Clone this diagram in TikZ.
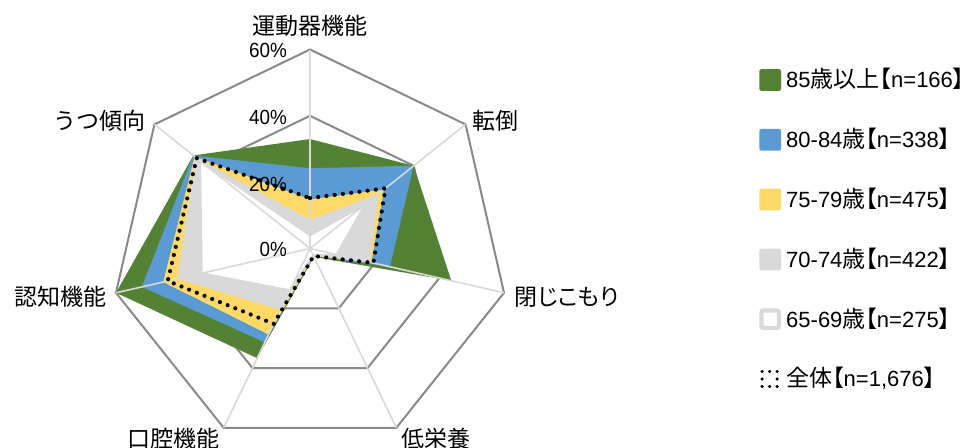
\documentclass[tikz,border=0pt]{standalone}
\usepackage{fontspec}
\setmainfont{Noto Sans CJK JP}
\newfontfamily\cjkp[RawFeature=+palt]{Noto Sans CJK JP}
\newfontfamily\lat[FakeStretch=0.92]{Liberation Sans}
\newfontfamily\latw{Liberation Sans}
\usetikzlibrary{calc}
\definecolor{cgreen}{HTML}{548235}
\definecolor{cblue}{HTML}{5B9BD5}
\definecolor{cyellow}{HTML}{FFD966}
\definecolor{cgray}{HTML}{D9D9D9}
\definecolor{cring}{HTML}{898989}
\newcommand\latn[1]{{\latw\fontsize{22}{26}\selectfont #1}}
\newcommand\lbr{{\cjkp 【}}
\newcommand\rbr{{\cjkp 】}}
\newcommand\mkseries[2]{%
  \foreach \v [count=\k from 0] in {#2}{%
    \coordinate (#1\k) at ({310+cos(-90+\k*360/7)*\v*199/60},{248.5+sin(-90+\k*360/7)*\v*199/60});}}
\begin{document}
\begin{tikzpicture}[x=1pt,y=-1pt,
  ring/.style={draw=cring,line width=2pt,line join=miter},
  spoke/.style={draw=cgray,line width=1.6pt},
  dotline/.style={draw=black,line width=4.2pt,dash pattern=on 0pt off 8.3pt,line cap=round},
  axl/.style={inner sep=0pt,font=\fontsize{23}{27}\selectfont},
  tick/.style={inner sep=0pt,anchor=east,font=\lat\fontsize{20.5}{24}\selectfont},
  ltxt/.style={inner sep=0pt,anchor=west,font=\fontsize{23}{27}\selectfont},
  lsq/.style={inner sep=0pt,minimum size=21.7pt,rounded corners=2pt}]
\useasboundingbox (0,0) rectangle (973,447);
\fill[white] (0,0) rectangle (973,447);
\coordinate (C) at (310,248.5);
\mkseries{aa}{20,20,20,20,20,20,20}
\mkseries{bb}{40,40,40,40,40,40,40}
\mkseries{cc}{60,60,60,60,60,60,60}
% rings
\draw[ring] (aa0) \foreach \k in {1,...,6}{-- (aa\k)} -- cycle;
\draw[ring] (bb0) \foreach \k in {1,...,6}{-- (bb\k)} -- cycle;
\draw[ring] (cc0) \foreach \k in {1,...,6}{-- (cc\k)} -- cycle;
% series
\mkseries{g}{33,40,43.7,2.8,36.7,60,45}
\mkseries{b}{24.2,40,24.7,2.6,31.4,52,45}
\mkseries{y}{14.8,28.5,19,2.5,28.8,45.4,44.5}
\mkseries{s}{8.6,26.3,18.5,2.3,20.5,41,44.3}
\mkseries{w}{4,21.2,8.2,2.2,14,33.5,42.4}
\mkseries{t}{15.2,29.1,19.6,2.5,25.2,44,43.7}
\fill[cgreen] (g0) \foreach \k in {1,...,6}{-- (g\k)} -- cycle;
\fill[cblue] (b0) \foreach \k in {1,...,6}{-- (b\k)} -- cycle;
\fill[cyellow] (y0) \foreach \k in {1,...,6}{-- (y\k)} -- cycle;
\fill[cgray] (s0) \foreach \k in {1,...,6}{-- (s\k)} -- cycle;
\filldraw[fill=white,draw=cgray,line width=2pt,line join=round] (w0) \foreach \k in {1,...,6}{-- (w\k)} -- cycle;
% spokes
\foreach \k in {0,...,6}{\draw[spoke] (C) -- (cc\k);}
% overall
\draw[dotline] (t0) \foreach \k in {1,...,6}{-- (t\k)} -- cycle;
% tick labels
\node[tick] (p60) at (287,50) {60\%};
\node[tick] (p40) at (287,117) {40\%};
\node[tick] (p20) at (287,184) {20\%};
\node[tick] (p0) at (287,249.5) {0\%};
% axis labels
\node[axl,anchor=center] (L0) at (310,26.3) {運動器機能};
\node[axl,anchor=west] (L1) at (472.5,121) {転倒};
\node[axl,anchor=west] (L2) at (514.5,297) {\cjkp 閉じこもり};
\node[axl,anchor=west] (L3) at (401,438.5) {低栄養};
\node[axl,anchor=east] (L4) at (219.5,438.5) {口腔機能};
\node[axl,anchor=east] (L5) at (106.5,296.7) {認知機能};
\node[axl,anchor=east] (L6) at (145.5,121) {うつ傾向};
% legend
\node[lsq,fill=cgreen] (k1) at (770.2,80) {};
\node[lsq,fill=cblue] (k2) at (770.2,139.8) {};
\node[lsq,fill=cyellow] (k3) at (770.2,199.5) {};
\node[lsq,fill=cgray] (k4) at (770.2,259.5) {};
\node[lsq,fill=white,draw=cgray,line width=4.3pt,minimum size=17.4pt] (k5) at (770.2,319.2) {};
\node[inner sep=0pt,minimum size=15pt,dotline,line width=3.5pt,dash pattern=on 0pt off 7.5pt] (k6) at (769.5,379) {};
\node[ltxt] (x1) at (786,79) {\latn{85}歳以上\lbr\latn{n=166}\rbr};
\node[ltxt] (x2) at (786,139) {\latn{80-84}歳\lbr\latn{n=338}\rbr};
\node[ltxt] (x3) at (786,198.7) {\latn{75-79}歳\lbr\latn{n=475}\rbr};
\node[ltxt] (x4) at (786,258.7) {\latn{70-74}歳\lbr\latn{n=422}\rbr};
\node[ltxt] (x5) at (786,318.4) {\latn{65-69}歳\lbr\latn{n=275}\rbr};
\node[ltxt] (x6) at (786,378.2) {全体\lbr\latn{n=1,676}\rbr};
\end{tikzpicture}
\end{document}
